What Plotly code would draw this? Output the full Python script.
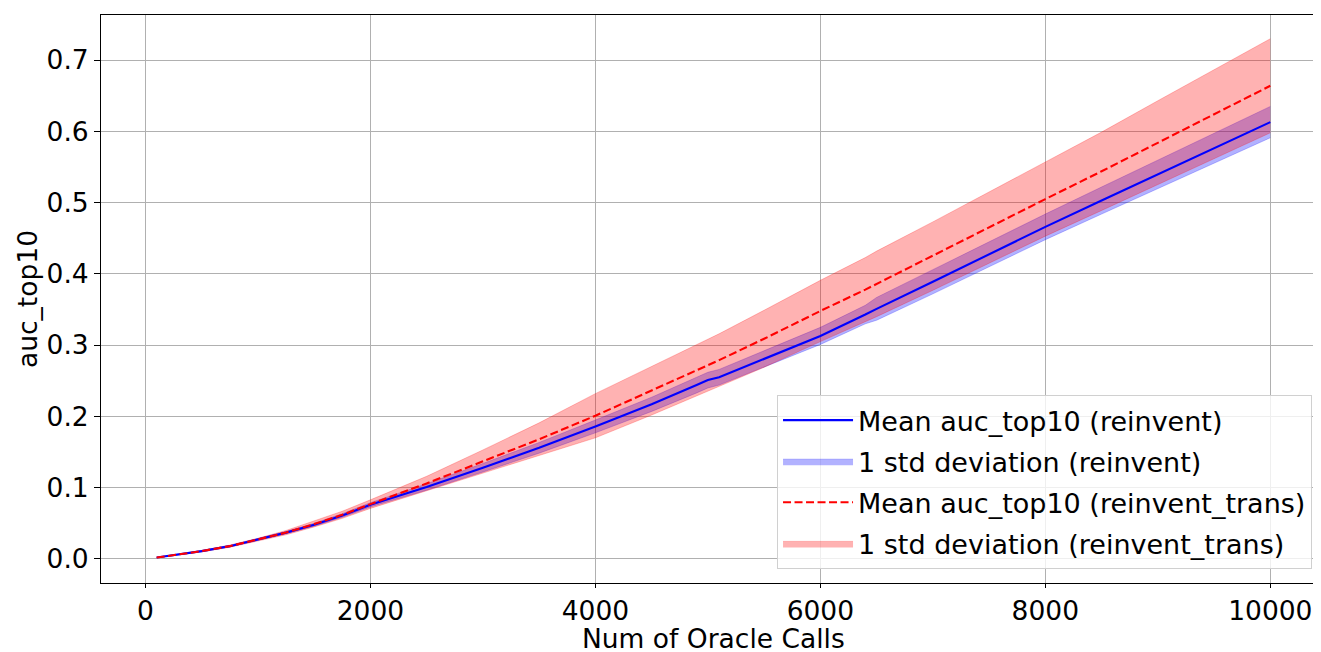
import plotly.graph_objects as go

# ---- data ----
oracle_calls = [100, 250, 500, 750, 1000, 1250, 1500, 1750, 2000, 2500, 3000, 3500, 4000,
                4500, 4900, 5000, 5100, 5500, 6000, 6400, 6500, 7000, 7500, 8000, 8500,
                9000, 9500, 10000]

reinvent_mean = [0.002, 0.005, 0.011, 0.018, 0.027, 0.037, 0.048, 0.061, 0.076, 0.101, 0.128,
                 0.156, 0.186, 0.217, 0.244, 0.251, 0.255, 0.281, 0.313, 0.343, 0.351, 0.389,
                 0.428, 0.466, 0.503, 0.540, 0.577, 0.613]
reinvent_std = [0.0002, 0.0004, 0.0008, 0.001, 0.0013, 0.0016, 0.002, 0.0025, 0.003, 0.0045,
                0.006, 0.0075, 0.009, 0.010, 0.011, 0.011, 0.011, 0.0115, 0.012, 0.013, 0.016,
                0.017, 0.0175, 0.018, 0.019, 0.020, 0.021, 0.022]

trans_mean = [0.002, 0.005, 0.011, 0.018, 0.027, 0.037, 0.049, 0.062, 0.077, 0.106, 0.137,
              0.168, 0.201, 0.236, 0.265, 0.272, 0.279, 0.309, 0.348, 0.378, 0.386, 0.425,
              0.465, 0.505, 0.544, 0.584, 0.624, 0.664]
trans_std = [0.0002, 0.0005, 0.001, 0.0015, 0.002, 0.003, 0.004, 0.005, 0.006, 0.010, 0.016,
             0.023, 0.031, 0.034, 0.036, 0.037, 0.037, 0.040, 0.043, 0.045, 0.046, 0.048,
             0.050, 0.052, 0.055, 0.059, 0.062, 0.066]

x_ticks = [0, 2000, 4000, 6000, 8000, 10000]
y_ticks = [0.0, 0.1, 0.2, 0.3, 0.4, 0.5, 0.6, 0.7]

FONT = "DejaVu Sans"
FS = 26.5

fig = go.Figure()

def band(mean, std, fill, edge, name, group, rank):
    lo = [m - s for m, s in zip(mean, std)]
    hi = [m + s for m, s in zip(mean, std)]
    fig.add_trace(go.Scatter(x=oracle_calls, y=lo, mode="lines",
                             line=dict(width=0.8, color=edge), showlegend=False,
                             hoverinfo="skip", legendgroup=group, legendrank=rank))
    fig.add_trace(go.Scatter(x=oracle_calls, y=hi, mode="lines", fill="tonexty",
                             fillcolor=fill, line=dict(width=0.8, color=edge), name=name,
                             legendgroup=group, legendrank=rank))

band(reinvent_mean, reinvent_std, "rgba(0,0,255,0.3)", "rgba(0,0,255,0.3)",
     "1 std deviation (reinvent)", "g2", 2)
band(trans_mean, trans_std, "rgba(255,0,0,0.3)", "rgba(255,0,0,0.3)",
     "1 std deviation (reinvent_trans)", "g4", 4)

fig.add_trace(go.Scatter(x=oracle_calls, y=reinvent_mean, mode="lines",
                         line=dict(color="blue", width=2.1), name="Mean auc_top10 (reinvent)",
                         legendgroup="g1", legendrank=1))
fig.add_trace(go.Scatter(x=oracle_calls, y=trans_mean, mode="lines",
                         line=dict(color="red", width=2.1, dash="8px,3.5px"),
                         name="Mean auc_top10 (reinvent_trans)", legendgroup="g3",
                         legendrank=3))

axis_common = dict(
    showgrid=True, gridcolor="#b0b0b0", gridwidth=1,
    showline=True, linecolor="black", linewidth=1,
    ticks="outside", tickwidth=1, tickcolor="black",
    tickfont=dict(family=FONT, size=FS, color="black"),
    zeroline=False, automargin=False,
)

fig.update_xaxes(range=[-395, 10495], tickvals=x_ticks, ticktext=[str(v) for v in x_ticks],
                 mirror=True, ticklen=4, **axis_common)
fig.update_yaxes(range=[-0.0337, 0.7633], tickvals=y_ticks, ticktext=[f"{v:.1f}" for v in y_ticks],
                 ticklen=6, **axis_common)

fig.add_annotation(text="Num of Oracle Calls", xref="paper", yref="paper", x=0.5, y=0,
                   xanchor="center", yanchor="middle", yshift=-55, showarrow=False,
                   font=dict(family=FONT, size=FS, color="black"))
fig.add_annotation(text="auc_top10", xref="paper", yref="paper", x=0, y=0.5,
                   xanchor="center", yanchor="middle", xshift=-74, textangle=-90,
                   showarrow=False, font=dict(family=FONT, size=FS, color="black"))

fig.update_layout(
    width=1318, height=652,
    margin=dict(l=93, r=0, t=7, b=77),
    plot_bgcolor="white", paper_bgcolor="white",
    font=dict(family=FONT, size=FS, color="black"),
    legend=dict(x=0.9886, xanchor="right", y=0.0246, yanchor="bottom",
                bgcolor="rgba(255,255,255,0.8)", bordercolor="#d0d0d0", borderwidth=1,
                font=dict(family=FONT, size=27, color="black"),
                itemwidth=70, tracegroupgap=3, traceorder="grouped"),
    showlegend=True,
)

fig.write_html("out.html")
